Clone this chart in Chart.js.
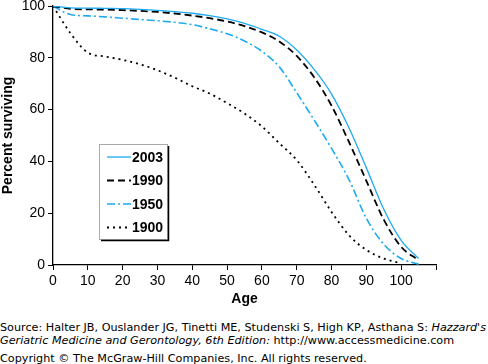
<!DOCTYPE html>
<html lang="en">
<head>
<meta charset="UTF-8">
<script src="https://cdn.jsdelivr.net/npm/chart.js"></script>
<title>Percent surviving</title>
<style>
    body { margin: 0; background: #fff; width: 488px; height: 364px; overflow: hidden; }
    #grafico { display: block; }
    .fonte { font-family: "DejaVu Sans", Verdana, sans-serif; font-size: 11.2px; line-height: 13px; color: #000; white-space: nowrap; position: absolute; left: 0; }
</style>
</head>
<body>
<canvas id="grafico" width="488" height="312"></canvas>
<div class="fonte" style="top:321px">Source: Halter JB, Ouslander JG, Tinetti ME, Studenski S, High KP, Asthana S: <i>Hazzard's</i></div>
<div class="fonte" style="top:334px"><i>Geriatric Medicine and Gerontology, 6th Edition:</i> http://www.accessmedicine.com</div>
<div class="fonte" style="top:352px">Copyright © The McGraw-Hill Companies, Inc. All rights reserved.</div>

<script>
    // idades (eixo x)
    var idades = [0, 5, 10, 15, 20, 25, 30, 35, 40, 45, 50, 55, 60, 65, 70, 75, 80, 85, 90, 95, 100, 105];
    var ano2003 = [100, 99.3, 99.2, 99.1, 99, 98.7, 98.3, 97.8, 97.2, 96.3, 95, 93.3, 91, 88.3, 83, 75.5, 66, 53, 37.5, 21.5, 9.5, 2.5];
    var ano1990 = [100, 98.9, 98.7, 98.6, 98.4, 98.1, 97.7, 97.1, 96.3, 95.3, 94, 92.2, 89.8, 86.3, 80.7, 72.5, 61.5, 47.5, 32.5, 17.5, 7, 1.8];
    var ano1950 = [100, 96.7, 96.2, 95.8, 95.3, 94.8, 94.3, 93.7, 92.8, 91.2, 89.3, 86.5, 82.5, 76.5, 66.5, 56, 45, 33, 18, 8, 2.5, 0.3];
    var ano1900 = [100, 89.5, 82, 80.5, 79.2, 77.5, 75.2, 72.3, 69, 66.2, 62.5, 58.5, 53.5, 47, 40.5, 31, 20.5, 11.5, 5.8, 2.5, 0.6, null];
    var ticksY = [0, 20, 40, 60, 80, 100];
    var ticksX = [0, 10, 20, 30, 40, 50, 60, 70, 80, 90, 100, 110];

    var azul = '#1eaaf0';
    var fonte = "'Liberation Sans', Arial, Helvetica, sans-serif";

    function pontos(valores) {
        var lista = [];
        for (let i = 0; i < idades.length; i++) {
            lista.push({ x: idades[i], y: valores[i] });
        }
        return lista;
    }

    // legenda desenhada dentro da area do grafico
    var legendaCaixa = {
        id: 'legendaCaixa',
        afterDraw: function (chart) {
            var ctx = chart.ctx;
            var x0 = 99, y0 = 144, w = 68, h = 95;
            ctx.save();
            ctx.fillStyle = '#fff';
            ctx.fillRect(x0, y0, w, h);
            ctx.strokeStyle = '#aaa';
            ctx.lineWidth = 1;
            ctx.strokeRect(x0 + 0.5, y0 + 0.5, w, h);
            ctx.strokeStyle = '#000';
            ctx.lineWidth = 1.5;
            ctx.beginPath();
            ctx.moveTo(x0 + w + 1.5, y0 + 2);
            ctx.lineTo(x0 + w + 1.5, y0 + h + 1.5);
            ctx.lineTo(x0 + 2, y0 + h + 1.5);
            ctx.stroke();
            ctx.font = 'bold 14px ' + fonte;
            ctx.textBaseline = 'middle';
            ctx.fillStyle = '#000';
            chart.data.datasets.forEach(function (ds, i) {
                var y = 157 + i * 23.5;
                ctx.strokeStyle = ds.borderColor;
                ctx.lineWidth = ds.borderWidth;
                ctx.setLineDash(ds.borderDash || []);
                ctx.beginPath();
                ctx.moveTo(107, y);
                ctx.lineTo(131, y);
                ctx.stroke();
                ctx.setLineDash([]);
                ctx.fillText(ds.label, 132, y + 1);
            });
            ctx.restore();
        }
    };

    const grafico = {
        type: 'line',
        data: {
            datasets: [
                { label: '2003', data: pontos(ano2003), borderColor: azul, borderWidth: 1.3 },
                { label: '1990', data: pontos(ano1990), borderColor: '#000', borderWidth: 1.8, borderDash: [7, 4] },
                { label: '1950', data: pontos(ano1950), borderColor: azul, borderWidth: 1.6, borderDash: [8, 3, 2, 3] },
                { label: '1900', data: pontos(ano1900), borderColor: '#000', borderWidth: 1.8, borderDash: [2, 4] }
            ]
        },
        options: {
            responsive: false,
            animation: false,
            devicePixelRatio: 1,
            layout: { padding: { top: 6, right: 52, left: 0, bottom: 0 } },
            elements: {
                point: { radius: 0 },
                line: { cubicInterpolationMode: 'monotone', fill: false }
            },
            plugins: {
                legend: { display: false },
                tooltip: { enabled: false }
            },
            scales: {
                x: {
                    type: 'linear',
                    min: 0,
                    max: 110,
                    afterBuildTicks: function (s) { s.ticks = ticksX.map(function (v) { return { value: v }; }); },
                    afterFit: function (s) { s.height = 47; s.paddingLeft = 0; s.paddingRight = 0; },
                    ticks: {
                        color: '#000',
                        font: { family: fonte, size: 14, lineHeight: 1 },
                        padding: 4,
                        maxRotation: 0,
                        callback: function (v) { return v === 110 ? '' : v; }
                    },
                    grid: { drawOnChartArea: false, drawTicks: true, tickLength: 5, color: '#000' },
                    border: { display: true, color: '#000', width: 1.3 },
                    title: { display: true, text: 'Age', color: '#000', font: { family: fonte, size: 14, weight: 'bold' }, padding: { top: 9 } }
                },
                y: {
                    min: 0,
                    max: 100,
                    afterBuildTicks: function (s) { s.ticks = ticksY.map(function (v) { return { value: v }; }); },
                    afterFit: function (s) { s.width = 53; s.paddingTop = 0; s.paddingBottom = 0; },
                    ticks: {
                        color: '#000',
                        font: { family: fonte, size: 14, lineHeight: 1 },
                        padding: 3
                    },
                    grid: { drawOnChartArea: false, drawTicks: true, tickLength: 5, color: '#000' },
                    border: { display: true, color: '#000', width: 1.3 },
                    title: { display: true, text: 'Percent surviving', color: '#000', font: { family: fonte, size: 14, weight: 'bold' }, padding: 0 }
                }
            }
        },
        plugins: [legendaCaixa]
    };

    var chartSobrevivencia = new Chart(document.getElementById('grafico'), grafico);
</script>
</body>
</html>
